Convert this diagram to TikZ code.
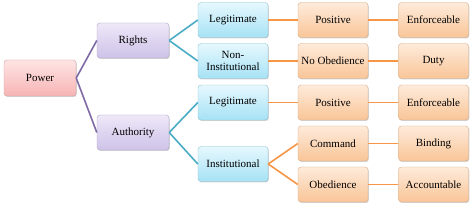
\documentclass[tikz,border=0pt]{standalone}
\usepackage{fontspec}
\setmainfont{Liberation Serif}
\usetikzlibrary{shadows}
\definecolor{pinkA}{HTML}{FFE4E4}\definecolor{pinkB}{HTML}{F6B4B4}\definecolor{pinkD}{HTML}{D9A0A0}
\definecolor{purA}{HTML}{EEE8F8}\definecolor{purB}{HTML}{CEC2E8}\definecolor{purD}{HTML}{B0A6C6}
\definecolor{cyaA}{HTML}{E6F8FE}\definecolor{cyaB}{HTML}{A6E2F5}\definecolor{cyaD}{HTML}{8FC3D3}
\definecolor{oraA}{HTML}{FEEBDB}\definecolor{oraB}{HTML}{F9C597}\definecolor{oraD}{HTML}{D7AE8A}
\definecolor{lnPur}{HTML}{7F6AA6}\definecolor{lnTea}{HTML}{4BACC6}\definecolor{lnOra}{HTML}{F79646}
\tikzset{
  box/.style={rounded corners=3pt, minimum width=70pt, minimum height=35pt, align=center,
    font=\fontsize{11}{11.5}\selectfont, inner sep=1pt,
    drop shadow={shadow xshift=0.8pt, shadow yshift=-1pt, opacity=0.35}},
  pinkbox/.style={box, draw=pinkD, top color=pinkA, bottom color=pinkB, minimum width=72pt, minimum height=36pt},
  purbox/.style={box, draw=purD, top color=purA, bottom color=purB, minimum width=72pt},
  cyabox/.style={box, draw=cyaD, top color=cyaA, bottom color=cyaB},
  orabox/.style={box, draw=oraD, top color=oraA, bottom color=oraB},
  lpur/.style={draw=lnPur, line width=1.6pt},
  ltea/.style={draw=lnTea, line width=1.6pt},
  lora/.style={draw=lnOra, line width=1.6pt}
}
\begin{document}
\begin{tikzpicture}[x=1pt,y=-1pt]
\useasboundingbox[fill=white] (0,0) rectangle (474,208);
\node[pinkbox] (power) at (40,78) {Power};
\node[purbox] (rights) at (133,40.5) {Rights};
\node[purbox] (auth) at (133,132.5) {Authority};
\node[cyabox] (leg1) at (233,20) {Legitimate};
\node[cyabox] (noninst) at (233,61) {Non-\\Institutional};
\node[cyabox] (leg2) at (233,102.5) {Legitimate};
\node[cyabox] (inst) at (233,164) {Institutional};
\node[orabox] (pos1) at (333,20) {Positive};
\node[orabox] (noob) at (333,61) {No Obedience};
\node[orabox] (pos2) at (333,102.5) {Positive};
\node[orabox] (cmd) at (333,143.5) {Command};
\node[orabox] (obed) at (333,184.5) {Obedience};
\node[orabox] (enf1) at (433.5,20) {Enforceable};
\node[orabox] (duty) at (433.5,61) {Duty};
\node[orabox] (enf2) at (433.5,102.5) {Enforceable};
\node[orabox] (bind) at (433.5,143.5) {Binding};
\node[orabox] (acc) at (433.5,184.5) {Accountable};
\begin{scope}[on background layer/.try]
\end{scope}
\draw[lpur] (power.east) -- (rights.west);
\draw[lpur] (power.east) -- (auth.west);
\draw[ltea] (rights.east) -- (leg1.west);
\draw[ltea] (rights.east) -- (noninst.west);
\draw[ltea] (auth.east) -- (leg2.west);
\draw[ltea] (auth.east) -- (inst.west);
\draw[lora] (leg1.east) -- (pos1.west);
\draw[lora] (noninst.east) -- (noob.west);
\draw[lora] (leg2.east) -- (pos2.west);
\draw[lora] (inst.east) -- (cmd.west);
\draw[lora] (inst.east) -- (obed.west);
\draw[lora] (pos1.east) -- (enf1.west);
\draw[lora] (noob.east) -- (duty.west);
\draw[lora] (pos2.east) -- (enf2.west);
\draw[lora] (cmd.east) -- (bind.west);
\draw[lora] (obed.east) -- (acc.west);
\end{tikzpicture}
\end{document}
